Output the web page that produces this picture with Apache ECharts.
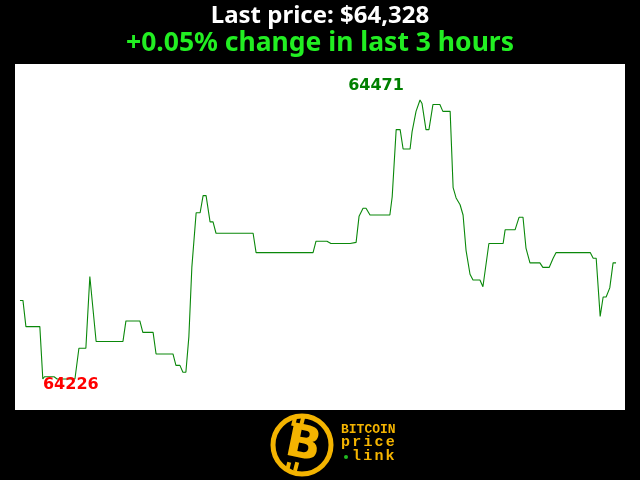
<!DOCTYPE html>
<html>
<head>
<meta charset="utf-8">
<script src="https://cdn.jsdelivr.net/npm/echarts@6/dist/echarts.min.js"></script>
<style>html,body{margin:0;padding:0;background:#000;}#c{width:640px;height:480px;}</style>
</head>
<body>
<div id="c"></div>
<script>
// minutes since start of the 3-hour window
const times = [0, 0.9, 1.8, 6.0, 6.9, 7.4, 10.3, 11.2, 16.6, 17.8, 19.9, 21.1, 23.0, 31.1, 32.0, 36.2, 37.1, 40.2, 41.1, 46.2,
  47.1, 48.3, 49.2, 50.1, 51.0, 51.9, 53.2, 54.4, 55.3, 56.2, 57.4, 58.3, 59.2, 70.4, 71.3, 88.5, 89.4, 92.7, 93.9, 99.7,
  100.3, 101.5, 102.4, 103.6, 104.5, 105.7, 111.7, 112.4, 113.6, 114.8, 115.7, 117.8, 118.4, 119.6, 120.8, 121.4, 122.6, 123.5, 124.7, 126.8,
  127.7, 129.9, 130.8, 131.7, 132.9, 133.8, 134.7, 135.9, 136.8, 138.9, 139.8, 141.6, 145.9, 146.5, 149.5, 150.7, 151.9, 152.8, 154.0, 157.0,
  157.9, 159.8, 161.0, 161.9, 172.2, 173.1, 174.0, 175.2, 176.1, 177.0, 178.1, 179.1, 180.0];
const prices = [64295, 64295, 64272, 64272, 64226, 64228, 64228, 64226, 64226, 64253, 64253, 64316, 64259, 64259, 64277, 64277, 64267, 64267, 64248, 64248,
  64238, 64238, 64232, 64232, 64263, 64324, 64372, 64372, 64387, 64387, 64364, 64364, 64354, 64354, 64337, 64337, 64347, 64347, 64345, 64345,
  64346, 64346, 64369, 64376, 64376, 64370, 64370, 64386, 64445, 64445, 64428, 64428, 64443, 64461, 64471, 64468, 64445, 64445, 64467, 64467,
  64461, 64461, 64394, 64385, 64379, 64370, 64339, 64318, 64313, 64313, 64307, 64345, 64345, 64357, 64357, 64368, 64368, 64341, 64328, 64328,
  64324, 64324, 64332, 64337, 64337, 64332, 64332, 64281, 64298, 64298, 64306, 64328, 64328];
const titleText = 'Last price: $64,328';
const subText = '+0.05% change in last 3 hours';

const data = times.map((t, i) => [t, prices[i]]);
const maxV = Math.max(...prices), minV = Math.min(...prices);
const iMax = prices.indexOf(maxV), iMin = prices.indexOf(minV);

const chart = echarts.init(document.getElementById('c'), null, {renderer: 'canvas'});

const logoColor = '#f4b400';
const graphics = [
  {type: 'circle', shape: {cx: 302, cy: 445, r: 29}, style: {fill: 'none', stroke: logoColor, lineWidth: 5}, z: 10},
  {type: 'rect', x: 294, y: 422, rotation: -0.25, shape: {x: -2, y: -5, width: 4, height: 9}, style: {fill: logoColor}, z: 12},
  {type: 'rect', x: 302, y: 422, rotation: -0.25, shape: {x: -2, y: -5, width: 4, height: 9}, style: {fill: logoColor}, z: 12},
  {type: 'rect', x: 288, y: 467, rotation: -0.25, shape: {x: -2, y: -5, width: 4, height: 9}, style: {fill: logoColor}, z: 10},
  {type: 'rect', x: 296, y: 467, rotation: -0.25, shape: {x: -2, y: -5, width: 4, height: 9}, style: {fill: logoColor}, z: 10},
  {type: 'text', x: 303, y: 446, rotation: -0.2,
    style: {text: 'B', fill: logoColor, font: '900 46px "DejaVu Sans"', textAlign: 'center', textVerticalAlign: 'middle', stroke: '#000', lineWidth: 1}, z: 11},
  {type: 'text', x: 341, y: 430, style: {text: 'BITCOIN', fill: logoColor, font: 'bold 13px "Liberation Mono"', textVerticalAlign: 'middle'}, z: 10}
];
const word2 = 'price', word3 = 'link';
for (let i = 0; i < word2.length; i++) {
  graphics.push({type: 'text', x: 341 + i * 11.2, y: 442, style: {text: word2[i], fill: logoColor, font: 'bold 15px "Liberation Mono"', textVerticalAlign: 'middle'}, z: 10});
}
for (let i = 0; i < word3.length; i++) {
  graphics.push({type: 'text', x: 352 + i * 11.2, y: 456, style: {text: word3[i], fill: logoColor, font: 'bold 15px "Liberation Mono"', textVerticalAlign: 'middle'}, z: 10});
}
graphics.push({type: 'circle', shape: {cx: 346, cy: 457, r: 2}, style: {fill: '#22bb22'}, z: 10});

chart.setOption({
  backgroundColor: '#000',
  animation: false,
  title: [
    {text: titleText, left: 'center', top: 4, padding: 0,
      textStyle: {color: '#fff', fontSize: 24, fontWeight: 'bold', fontFamily: 'Noto Sans'}},
    {text: subText, left: 'center', top: 30, padding: 0,
      textStyle: {color: '#22ee22', fontSize: 26.5, fontWeight: 'bold', fontFamily: 'Noto Sans'}}
  ],
  grid: {left: 15, right: 15, top: 64, bottom: 70, show: true, backgroundColor: '#fff', borderWidth: 0},
  xAxis: {type: 'value', min: -1.5, max: 182.7, show: false},
  yAxis: {type: 'value', min: 64198.8, max: 64502.6, show: false},
  series: [{
    type: 'line',
    data: data,
    showSymbol: false,
    lineStyle: {color: '#0a880a', width: 1.1},
    markPoint: {
      symbol: 'circle', symbolSize: 1,
      itemStyle: {color: 'rgba(0,0,0,0)'},
      data: [
        {coord: data[iMax], value: maxV,
          label: {show: true, position: 'inside', offset: [-44, -14], formatter: String(Math.round(maxV)),
            color: '#008000', fontSize: 16, fontWeight: 'bold', fontFamily: 'DejaVu Sans'}},
        {coord: data[iMin], value: minV,
          label: {show: true, position: 'inside', offset: [28, 6], formatter: String(Math.round(minV)),
            color: '#ff0000', fontSize: 16, fontWeight: 'bold', fontFamily: 'DejaVu Sans'}}
      ]
    }
  }],
  graphic: graphics
});
</script>
</body>
</html>
